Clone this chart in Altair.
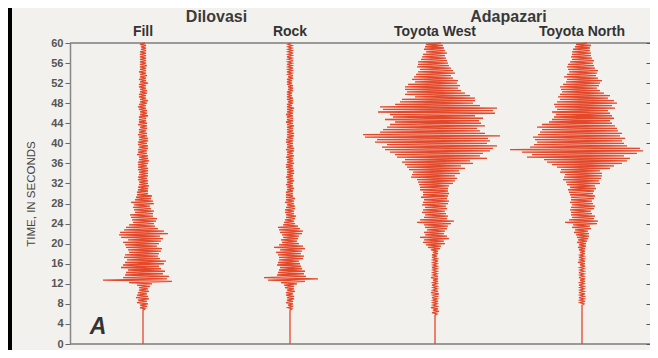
import altair as alt
import pandas as pd

# ---------------- data ----------------
stations = ["Fill", "Rock", "Toyota West", "Toyota North"]
groups = ["Dilovasi", "Dilovasi", "Adapazari", "Adapazari"]
sample_step = 0.25  # seconds between samples
time_ticks = list(range(0, 61, 4))

# amplitudes (px-like units), one value every 0.25 s from 0 to 60 s
fill_amp = [0] * 28 + [
    2, -3, 4, -3,  5, -6, 4, -5,  6, -7, 5, -6,  4, -5, 6, -4,  5, -4, 7, -6,
    9, -14, 29, -40,  24, -20, 26, -18,  20, -17, 22, -15,  18, -22, 16, -20,
    21, -18, 23, -16,  17, -19, 15, -18,  16, -14, 18, -15,  19, -17, 14, -18,
    16, -20, 18, -15,  20, -22, 17, -24,  25, -23, 21, -19,  15, -17, 12, -14,
    11, -10, 13, -11,  14, -12, 10, -13,  10, -8, 11, -9,  8, -10, 7, -9,
    11, -12, 10, -8,  8, -7, 9, -6,
    5, -6, 5, -5,  5, -5, 6, -4,  5, -4, 5, -5,  4, -5, 5, -4,  5, -4, 5, -5,
    5, -5, 4, -5,  5, -5, 6, -4,  5, -4, 5, -6,  4, -5, 4, -5,  5, -4, 5, -5,
    4, -5, 5, -4,  5, -4, 4, -5,  4, -4, 3, -4,  4, -3, 4, -5,  4, -4, 3, -4,
    3, -4, 5, -3,  4, -3, 4, -4,  3, -5, 3, -4,  4, -3, 5, -3,  3, -4, 3, -4,
    4, -3, 4, -3,  3, -4, 3, -4,  5, -3, 3, -4,  3, -3, 4, -3,  3, -4, 3, -3,
    3, -3, 4, -3,  3, -3, 3, -3,  3, -3, 3, -3,  3, -3, 3, -2,  3, -2, 3, -3,
    2,
]

rock_amp = [0] * 28 + [
    2, -2, 3, -2,  3, -4, 3, -3,  4, -3, 4, -4,  3, -4, 5, -3,  4, -5, 4, -6,
    7, -9, 15, -22,  28, -26, 16, -13,  14, -12, 15, -11,  12, -10, 11, -13,
    10, -12, 9, -11,  13, -11, 14, -12,  11, -14, 12, -10,  15, -16, 13, -11,
    9, -8, 7, -9,  8, -7, 9, -8,  12, -10, 13, -11,  10, -12, 8, -7,
    5, -6, 4, -5,  5, -4, 6, -4,  4, -5, 4, -5,  5, -4, 5, -3,
    4, -5, 4, -4,  5, -4, 3, -4,
    3, -4, 3, -3,  4, -3, 3, -4,  3, -3, 4, -3,  3, -4, 3, -3,  4, -3, 4, -3,
    3, -4, 3, -4,  4, -3, 3, -3,  3, -4, 4, -3,  3, -3, 4, -4,  4, -3, 3, -3,
    3, -4, 3, -4,  3, -3, 4, -3,  4, -3, 3, -3,  3, -3, 4, -3,  3, -4, 3, -3,
    3, -3, 3, -4,  3, -3, 3, -3,  4, -3, 2, -3,  3, -2, 3, -3,  3, -3, 2, -3,
    2, -3, 3, -2,  3, -2, 3, -3,  2, -3, 2, -3,  3, -2, 3, -2,  2, -3, 2, -2,
    3, -2, 2, -3,  2, -2, 3, -2,  2, -3, 2, -2,  3, -2, 2, -2,  2, -2, 2, -2,
    1,
]

west_amp = [0] * 24 + [
    2, -3, 4, -2,  3, -4, 2, -2,  2, -2, 3, -2,  2, -3, 2, -2,  4, -4, 3, -2,
    2, -2, 2, -3,  2, -2, 3, -2,  3, -4, 3, -2,  2, -2, 2, -2,  2, -3, 2, -2,
    2, -2, 3, -2,  2, -3, 2, -3,  3, -2, 3, -4,  5, -7, 6, -9,
    10, -12, 9, -11,  14, -15, 12, -10,  9, -11, 10, -8,  12, -10, 13, -11,
    16, -18, 19, -15,  12, -11, 13, -10,  11, -13, 10, -12,  12, -10, 11, -13,
    13, -12, 14, -11,  12, -14, 13, -12,  14, -12, 13, -15,  13, -15, 14, -16,
    18, -17, 20, -18,  22, -24, 20, -23,  25, -22, 24, -26,  30, -28, 26, -30,
    38, -33, 35, -30,  52, -38, 45, -40,  48, -45, 55, -50,  58, -53, 62, -48,
    52, -60, 55, -58,  53, -70, 65, -72,  50, -55, 45, -52,  42, -48, 50, -45,
    46, -40, 44, -50,  48, -42, 40, -45,  60, -57, 58, -52,  62, -55, 45, -40,
    38, -35, 40, -33,  40, -20, 35, -30,  30, -28, 26, -30,  23, -30, 25, -27,
    22, -20, 23, -23,  18, -21, 16, -19,  20, -17, 18, -15,  16, -18, 14, -17,
    13, -17, 12, -14,  11, -13, 10, -12,  12, -9, 10, -11,  9, -10, 8, -9,
    6,
]

north_amp = [0] * 32 + [
    2, -2, 3, -2,  2, -3, 2, -2,  3, -3, 2, -2,  2, -2, 2, -3,  2, -2, 3, -2,
    3, -3, 2, -2,  2, -3, 2, -2,  2, -2, 3, -2,  3, -4, 3, -2,  2, -3, 2, -2,
    3, -2, 3, -3,  3, -4, 4, -3,  4, -5, 5, -4,  6, -5, 7, -6,
    7, -8, 6, -7,  9, -10, 8, -9,  15, -17, 16, -13,  12, -10, 13, -11,
    10, -11, 9, -12,  12, -11, 13, -10,  11, -12, 10, -11,  12, -11, 13, -12,
    11, -13, 12, -14,  14, -12, 13, -15,  18, -16, 17, -19,  19, -18, 20, -17,
    20, -22, 18, -21,  28, -25, 32, -30,  40, -35, 45, -38,  48, -55, 42, -50,
    55, -60, 61, -72,  58, -52, 45, -48,  42, -45, 40, -47,  43, -49, 38, -44,
    40, -42, 36, -40,  35, -45, 33, -40,  30, -33, 28, -30,  32, -28, 30, -26,
    28, -30, 26, -25,  33, -27, 30, -28,  35, -25, 32, -22,  26, -24, 28, -22,
    22, -20, 18, -21,  15, -22, 17, -19,  18, -16, 20, -15,  16, -18, 14, -15,
    15, -13, 16, -14,  13, -15, 12, -14,  11, -12, 12, -10,  10, -11, 9, -10,
    9, -10, 8, -9,  8, -7, 9, -6,
    5,
]

amplitudes = [fill_amp, rock_amp, west_amp, north_amp]

# ---------------- layout constants ----------------
W, H = 576, 301
trace_offsets = [73, 220, 365, 512]   # horizontal baseline of each trace
LIGHT = "#f3f1ee"
TRACE = "#e3482a"
FONT = "Liberation Sans"

rows = []
for name, off, amps in zip(stations, trace_offsets, amplitudes):
    assert len(amps) == 241, (name, len(amps))
    for i, a in enumerate(amps):
        rows.append({"station": name, "idx": i, "t": i * sample_step, "x": off + a})
df = pd.DataFrame(rows)

xscale = alt.Scale(domain=[0, W], nice=False, zero=False)
yscale = alt.Scale(domain=[0, 60], nice=False)

backdrop = alt.Chart(pd.DataFrame({"k": [0]})).mark_rect(color=LIGHT).encode(
    x=alt.value(-58), x2=alt.value(W + 4), y=alt.value(-36), y2=alt.value(H + 6)
)

traces = alt.Chart(df).mark_line(color=TRACE, strokeWidth=1.3).encode(
    x=alt.X("x:Q", scale=xscale, axis=None),
    y=alt.Y(
        "t:Q",
        scale=yscale,
        axis=alt.Axis(
            values=time_ticks,
            title="TIME, IN SECONDS",
            titleFont=FONT,
            titleFontSize=11.5,
            titleFontWeight="normal",
            titleColor="#444",
            titlePadding=14,
            labelFont=FONT,
            labelFontSize=11,
            labelFontWeight="bold",
            labelColor="#555",
            labelPadding=2,
            tickColor="#666",
            tickSize=5,
            domainColor="#888",
            domainWidth=1.5,
            grid=False,
            zindex=1,
        ),
    ),
    detail="station:N",
    order="idx:Q",
)

frame = alt.Chart(pd.DataFrame({"v": [0, 60]})).mark_rule(
    color="#999", strokeWidth=2
).encode(
    x=alt.value(0),
    x2=alt.value(W + 4),
    y=alt.Y(
        "v:Q",
        scale=yscale,
        axis=alt.Axis(
            orient="right",
            values=time_ticks,
            labels=False,
            domain=False,
            tickSize=4,
            tickColor="#555",
            title=None,
            grid=False,
            zindex=1,
        ),
    ),
)

lab_df = pd.DataFrame({"station": stations, "x": trace_offsets})
station_labels = alt.Chart(lab_df).mark_text(
    font=FONT, fontSize=14, fontWeight="bold", color="#333", baseline="middle"
).encode(x=alt.X("x:Q", scale=xscale), y=alt.value(-11), text="station:N")

grp_df = (
    pd.DataFrame({"group": groups, "x": trace_offsets})
    .groupby("group", as_index=False)["x"]
    .mean()
)
group_labels = alt.Chart(grp_df).mark_text(
    font=FONT, fontSize=16, fontWeight="bold", color="#3a3a3a", baseline="middle"
).encode(x=alt.X("x:Q", scale=xscale), y=alt.value(-26), text="group:N")

panel_letter = alt.Chart(pd.DataFrame({"s": ["A"]})).mark_text(
    font=FONT, fontSize=23, fontWeight="bold", fontStyle="italic", color="#333",
    baseline="middle", align="center",
).encode(x=alt.value(28), y=alt.value(H - 17), text="s:N")

chart = (
    alt.layer(backdrop, frame, traces, station_labels, group_labels, panel_letter)
    .resolve_axis(y="independent")
    .properties(
        width=W,
        height=H,
        autosize=alt.AutoSizeParams(type="none"),
        padding={"left": 62, "top": 35, "right": 4, "bottom": 6},
        background="#000000",
    )
    .configure_view(stroke=None)
)

chart.save("out.html", embed_options={"renderer": "svg", "actions": False})
